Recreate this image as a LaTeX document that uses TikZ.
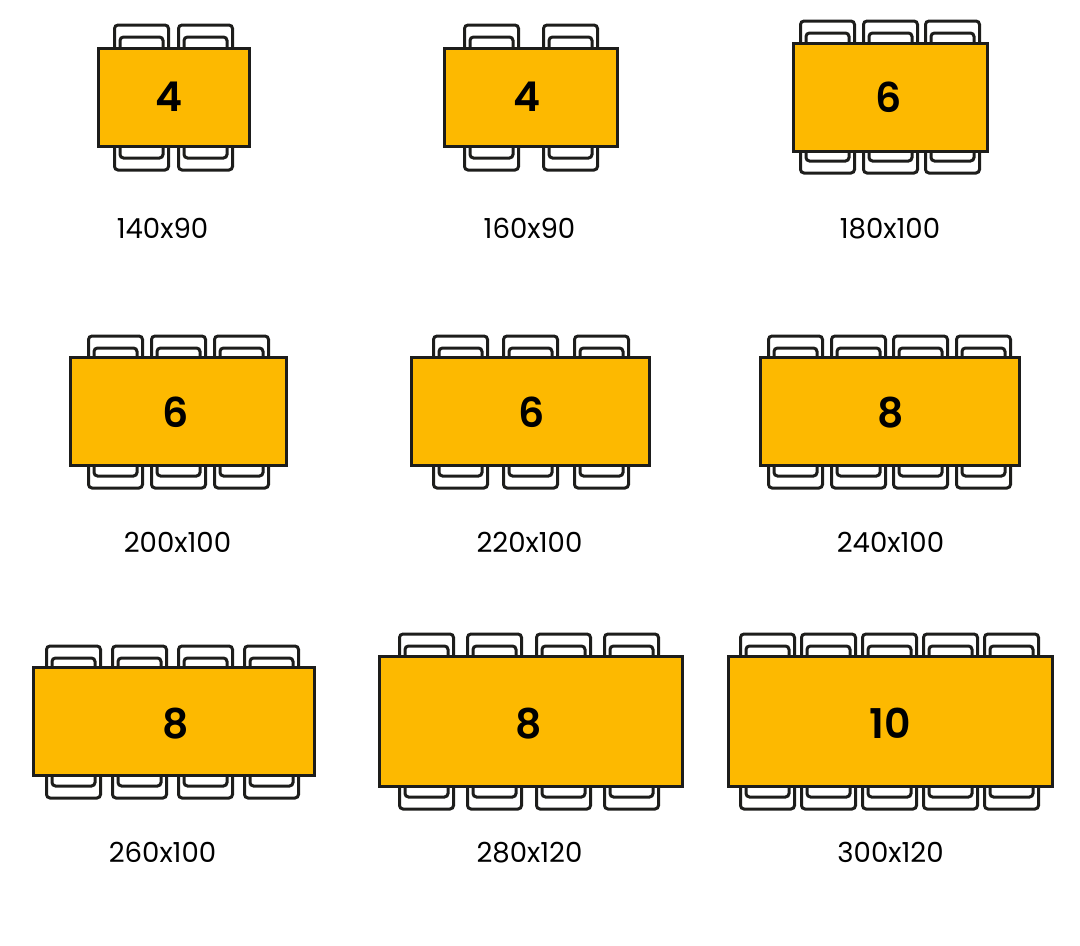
\documentclass[tikz,border=0pt]{standalone}
\usepackage{fontspec}
\setmainfont{Poppins}
\newfontfamily\numfont{Poppins SemiBold}
\definecolor{tabletop}{HTML}{FDB900}
\definecolor{outline}{HTML}{1D1D1B}
\tikzset{
  tablebox/.style={draw=outline, fill=tabletop, line width=3pt, inner sep=0pt},
  seatnum/.style={font=\fontsize{41}{41}\numfont, text=black},
  sizelabel/.style={font=\fontsize{27.6}{28}\selectfont, text=black},
  chair/.style={draw=outline, line width=3pt, rounded corners=3.5pt},
}
% chairs: x positions, top edge, bottom edge
\newcommand{\chairrow}[3]{
  \foreach \cx in {#1} {
    \draw[chair] (\cx+0.5,#2+40) -- (\cx+0.5,#2) -- (\cx+54.5,#2) -- (\cx+54.5,#2+40);
    \draw[chair] (\cx+6,#2+40) -- (\cx+6,#2+12) -- (\cx+49,#2+12) -- (\cx+49,#2+40);
    \draw[chair] (\cx+0.5,#3-40) -- (\cx+0.5,#3) -- (\cx+54.5,#3) -- (\cx+54.5,#3-40);
    \draw[chair] (\cx+6,#3-40) -- (\cx+6,#3-12) -- (\cx+49,#3-12) -- (\cx+49,#3-40);
  }
}
\begin{document}
\begin{tikzpicture}[x=1pt,y=-1pt]
\useasboundingbox (0,0) rectangle (1080,946);
% first row
\chairrow{114,178}{25}{170}
\chairrow{464,543}{25}{170}
\chairrow{800,863,925}{21}{173}
\node[tablebox, minimum width=151pt, minimum height=98pt] (t140) at (173.5,97) {};
\node[tablebox, minimum width=173pt, minimum height=98pt] (t160) at (530.5,97) {};
\node[tablebox, minimum width=194pt, minimum height=108pt] (t180) at (890,97) {};
\node[seatnum] (n140) at (169,96.4) {4};
\node[seatnum] (n160) at (527.5,96.4) {4};
\node[seatnum] (n180) at (888.5,97.4) {6};
\node[sizelabel] (l140) at (162.5,228.4) {140x90};
\node[sizelabel] (l160) at (529.5,228.4) {160x90};
\node[sizelabel] (l180) at (890,228.4) {180x100};
% second row
\chairrow{88,151,214}{336}{488}
\chairrow{433,503,574}{336}{488}
\chairrow{768,831,893,956}{336}{488}
\node[tablebox, minimum width=216.5pt, minimum height=108.5pt] (t200) at (178.3,411.3) {};
\node[tablebox, minimum width=238pt, minimum height=108.5pt] (t220) at (530,411.3) {};
\node[tablebox, minimum width=259.5pt, minimum height=108.5pt] (t240) at (889.8,411.3) {};
\node[seatnum] (n200) at (175.5,412.4) {6};
\node[seatnum] (n220) at (531.5,412.4) {6};
\node[seatnum] (n240) at (890.5,412.4) {8};
\node[sizelabel] (l200) at (177.5,542.4) {200x100};
\node[sizelabel] (l220) at (529.5,542.4) {220x100};
\node[sizelabel] (l240) at (890.5,542.4) {240x100};
% third row
\chairrow{46,112,178,244}{646}{798}
\chairrow{399,467,536,604}{634}{809}
\chairrow{740,801,862,923,984}{634}{809}
\node[tablebox, minimum width=281pt, minimum height=108.5pt] (t260) at (173.5,721.3) {};
\node[tablebox, minimum width=303pt, minimum height=130pt] (t280) at (530.5,721) {};
\node[tablebox, minimum width=324pt, minimum height=130pt] (t300) at (890,721) {};
\node[seatnum] (n260) at (175.5,723.4) {8};
\node[seatnum] (n280) at (528.5,723.4) {8};
\node[seatnum] (n300) at (890,723.4) {10};
\node[sizelabel] (l260) at (162.5,852.4) {260x100};
\node[sizelabel] (l280) at (529.5,852.4) {280x120};
\node[sizelabel] (l300) at (890.5,852.4) {300x120};
\end{tikzpicture}
\end{document}
